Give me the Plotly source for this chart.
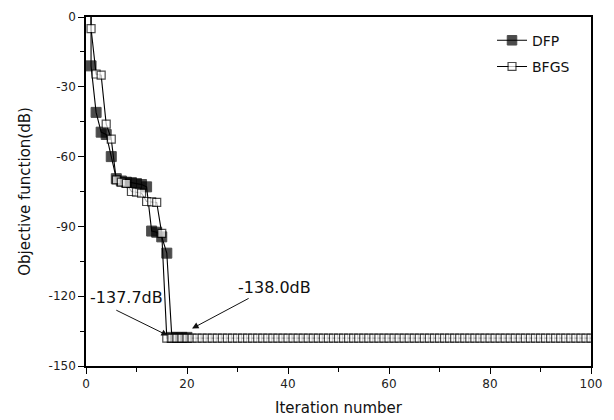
import plotly.graph_objects as go

# ---- data ----
dfp_iter = [1, 1, 2, 3, 4, 5, 6, 7, 8, 9, 10, 11, 12, 13, 14, 15, 16, 17, 18, 19, 20]
dfp_val = [0.0, -21.0, -41.0, -49.5, -50.5, -60.0, -69.5, -70.5, -71.0, -71.2, -71.6,
           -72.0, -73.0, -92.0, -92.5, -94.5, -101.5, -137.7, -137.7, -137.7, -137.7]

bfgs_iter = [1, 1, 2, 3, 4, 5, 6, 7, 8, 9, 10, 11, 12, 13, 14, 15] + list(range(16, 101))
bfgs_val = [0.0, -5.0, -24.5, -25.0, -46.0, -52.5, -70.0, -71.0, -71.5, -75.0, -75.3,
            -75.7, -79.3, -79.5, -79.7, -93.0,
            -138.0, -138.0, -138.0, -138.0, -138.0, -138.0, -138.0, -138.0, -138.0, -138.0,
            -138.0, -138.0, -138.0, -138.0, -138.0, -138.0, -138.0, -138.0, -138.0, -138.0,
            -138.0, -138.0, -138.0, -138.0, -138.0, -138.0, -138.0, -138.0, -138.0, -138.0,
            -138.0, -138.0, -138.0, -138.0, -138.0, -138.0, -138.0, -138.0, -138.0, -138.0,
            -138.0, -138.0, -138.0, -138.0, -138.0, -138.0, -138.0, -138.0, -138.0, -138.0,
            -138.0, -138.0, -138.0, -138.0, -138.0, -138.0, -138.0, -138.0, -138.0, -138.0,
            -138.0, -138.0, -138.0, -138.0, -138.0, -138.0, -138.0, -138.0, -138.0, -138.0,
            -138.0, -138.0, -138.0, -138.0, -138.0, -138.0, -138.0, -138.0, -138.0, -138.0,
            -138.0, -138.0, -138.0, -138.0, -138.0]

x_ticks = [0, 20, 40, 60, 80, 100]
y_ticks = [0, -30, -60, -90, -120, -150]

FONT = "DejaVu Sans"

# first point (start value) is drawn without a marker, as in the reference
dfp_sizes = [0] + [10] * (len(dfp_val) - 1)
bfgs_sizes = [0] + [8] * (len(bfgs_val) - 1)

fig = go.Figure()
fig.add_trace(go.Scatter(
    x=dfp_iter, y=dfp_val, name="DFP", mode="lines+markers",
    line=dict(color="black", width=1.1),
    marker=dict(symbol="square", size=dfp_sizes, color="black",
                line=dict(color="black", width=1)),
    legendgroup="a",
))
fig.add_trace(go.Scatter(
    x=bfgs_iter, y=bfgs_val, name="BFGS", mode="lines+markers",
    line=dict(color="black", width=1.1),
    marker=dict(symbol="square", size=bfgs_sizes, color="white",
                line=dict(color="black", width=1.2)),
    legendgroup="b",
))

# annotations
fig.add_annotation(x=16.2, y=-136.9, ax=5.7, ay=-125.7, axref="x", ayref="y",
                   text="", showarrow=True, arrowhead=2, arrowsize=1.3,
                   arrowwidth=1, arrowcolor="#111")
fig.add_annotation(x=21.0, y=-133.9, ax=32.5, ay=-120.6, axref="x", ayref="y",
                   text="", showarrow=True, arrowhead=2, arrowsize=1.3,
                   arrowwidth=1, arrowcolor="#111")
fig.add_annotation(x=8.1, y=-120.6, text="-137.7dB", showarrow=False,
                   font=dict(family=FONT, size=16, color="#111"))
fig.add_annotation(x=37.4, y=-116.3, text="-138.0dB", showarrow=False,
                   font=dict(family=FONT, size=16, color="#111"))

axis_common = dict(
    showgrid=False, zeroline=False, showline=True, linecolor="black", linewidth=1.5,
    mirror=True, ticks="outside", ticklen=6, tickwidth=1, tickcolor="black",
    tickfont=dict(family=FONT, size=12, color="#222"),
)

fig.update_xaxes(
    range=[0, 100], tickvals=x_ticks, ticktext=[str(v) for v in x_ticks],
    minor=dict(ticks="outside", ticklen=4, tickwidth=1, tickcolor="black", dtick=10, tick0=0),
    title=dict(text="Iteration number", font=dict(family=FONT, size=15, color="#111"),
               standoff=12),
    **axis_common,
)
fig.update_yaxes(
    range=[-150, 0], tickvals=y_ticks, ticktext=[str(v) for v in y_ticks],
    minor=dict(ticks="outside", ticklen=4, tickwidth=1, tickcolor="black", dtick=15, tick0=0),
    title=dict(text="Objective function(dB)", font=dict(family=FONT, size=15, color="#111"),
               standoff=14),
    **axis_common,
)

fig.update_layout(
    width=614, height=420,
    margin=dict(l=86, r=23, t=17, b=54, autoexpand=False),
    plot_bgcolor="white", paper_bgcolor="white",
    showlegend=True,
    legend=dict(x=0.804, y=0.978, xanchor="left", yanchor="top",
                font=dict(family=FONT, size=14, color="#111"),
                bgcolor="rgba(0,0,0,0)", tracegroupgap=5, traceorder="grouped"),
)

fig.write_html("out.html")
